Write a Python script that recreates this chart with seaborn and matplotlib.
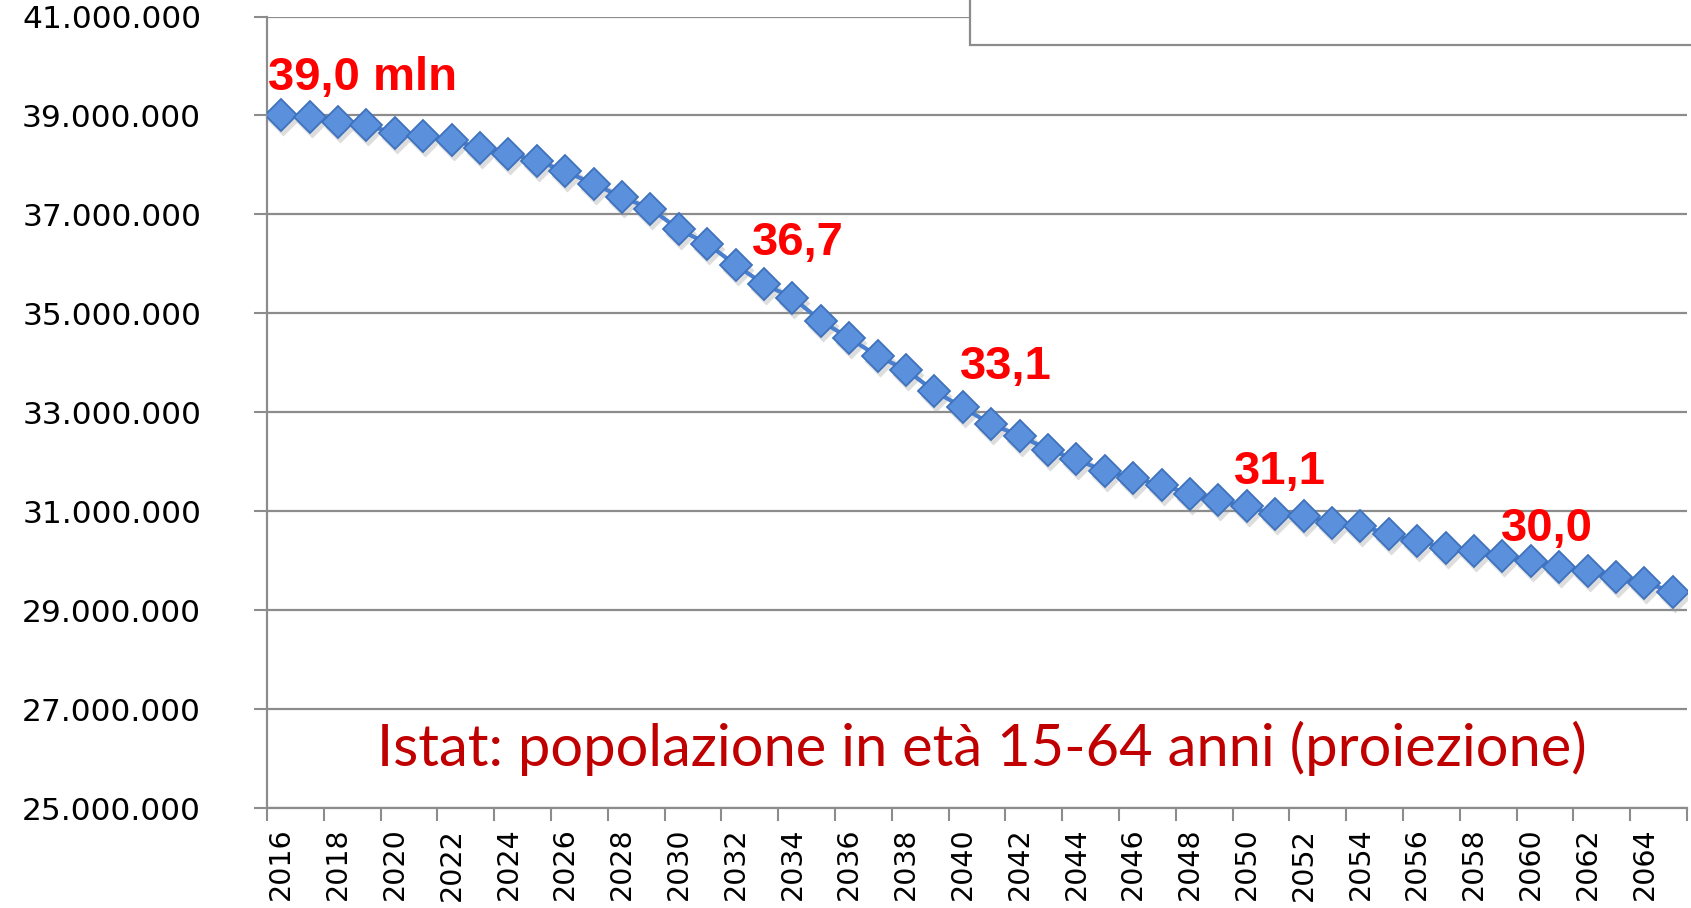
import numpy as np
import pandas as pd
import matplotlib
matplotlib.use("Agg")
import matplotlib.pyplot as plt
import matplotlib.transforms as mtransforms
from matplotlib.patches import Rectangle
import seaborn as sns

# ---------------- data ----------------
years = list(range(2016, 2066))
pop_mln = [39.00, 38.97, 38.87, 38.80, 38.65, 38.58, 38.50, 38.35, 38.23, 38.09,
           37.87, 37.62, 37.35, 37.12, 36.70, 36.41, 35.98, 35.59, 35.32, 34.85,
           34.50, 34.14, 33.86, 33.43, 33.10, 32.76, 32.53, 32.25, 32.05, 31.81,
           31.68, 31.53, 31.36, 31.22, 31.10, 30.94, 30.91, 30.77, 30.71, 30.54,
           30.40, 30.27, 30.20, 30.10, 30.00, 29.88, 29.79, 29.68, 29.56, 29.38]
label_years = [2016, 2030, 2040, 2050, 2060]
label_texts = ["39,0 mln", "36,7", "33,1", "31,1", "30,0"]
label_offsets_px = [(-13, 25), (73, -26), (-3, 28), (-13, 22), (-30, 20)]
y_ticks = [25000000, 27000000, 29000000, 31000000, 33000000, 35000000, 37000000, 39000000, 41000000]
title_text = "Istat: popolazione in età 15-64 anni (proiezione)"

df = pd.DataFrame({"pos": np.arange(len(years)), "year": years,
                   "pop": np.array(pop_mln) * 1e6})

# ---------------- figure ----------------
W, H = 1691, 908
fig = plt.figure(figsize=(W / 100, H / 100), dpi=100, facecolor="white")
ax = fig.add_axes([267 / W, 1 - 808.3 / H, (1687 - 267) / W, (808.3 - 16.5) / H])

grey = "#8c8c8c"

# soft shadow under the markers
shadow_tr = mtransforms.offset_copy(ax.transData, fig=fig, x=2, y=-5, units="dots")
ax.plot(df["pos"], df["pop"], linestyle="none", marker="D", markersize=16,
        markerfacecolor="#9e9e9e", markeredgecolor="none", alpha=0.35,
        transform=shadow_tr, zorder=4)

sns.lineplot(data=df, x="pos", y="pop", ax=ax, color="#4a7fcf", linewidth=3,
             marker="D", markersize=16, markerfacecolor="#5b90dc",
             markeredgecolor="#3f72bd", markeredgewidth=1.3, zorder=5)

ax.set_xlim(-0.5, len(years) - 0.5)
ax.set_ylim(y_ticks[0], y_ticks[-1])
ax.set_xlabel("")
ax.set_ylabel("")

# y axis
ax.set_yticks(y_ticks)
ax.set_yticklabels([f"{v:,}".replace(",", ".") for v in y_ticks])
ax.tick_params(axis="y", which="major", length=9.4, width=1.5, color=grey,
               pad=38, labelsize=22.5, labelcolor="black")
ax.yaxis.grid(True, color=grey, linewidth=1.6)
ax.set_axisbelow(True)

# x axis (category style)
ax.set_xticks(df["pos"][::2])
ax.set_xticklabels([str(y) for y in years[::2]], rotation=90)
ax.set_xticks(np.arange(-0.5, len(years), 2), minor=True)
ax.tick_params(axis="x", which="major", length=0, pad=14, labelsize=20.5, labelcolor="black")
ax.tick_params(axis="x", which="minor", length=9.4, width=1.5, color=grey)
for lab in ax.get_xticklabels():
    lab.set_va("top")

for s in ["top", "right"]:
    ax.spines[s].set_visible(False)
for s in ["left", "bottom"]:
    ax.spines[s].set_color(grey)
    ax.spines[s].set_linewidth(1.6)

# value labels
for yr, txt, (dx, dy) in zip(label_years, label_texts, label_offsets_px):
    i = years.index(yr)
    ax.annotate(txt, xy=(i, pop_mln[i] * 1e6), xytext=(dx, dy), textcoords="offset pixels",
                ha="left", va="baseline", color="#ff0000", fontsize=34, fontweight="bold",
                family=["Liberation Sans", "DejaVu Sans"], zorder=8)

# title text inside plot, fitted to width
t = fig.text(377 / W, 1 - 765.7 / H, title_text, ha="left", va="baseline",
             color="#c00000", fontsize=40, family=["Lato", "DejaVu Sans"])
fig.canvas.draw()
bb = t.get_window_extent(renderer=fig.canvas.get_renderer())
t.set_fontsize(40 * (1587 - 377) / bb.width)

# white box in top-right corner
fig.add_artist(Rectangle((970 / W, 1 - 45 / H), 1.0, 1.0, transform=fig.transFigure,
                         facecolor="white", edgecolor=grey, linewidth=1.6, zorder=20,
                         clip_on=False))

fig.savefig("out.png", dpi=100, facecolor="white")
